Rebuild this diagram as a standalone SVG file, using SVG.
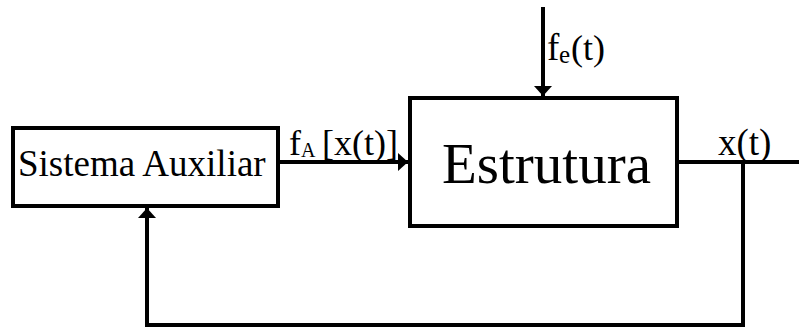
<svg xmlns="http://www.w3.org/2000/svg" width="799" height="328" viewBox="0 0 799 328">
<style>
.box{fill:#fff;stroke:#000;stroke-width:4}
.ln{fill:none;stroke:#000;stroke-width:4}
text{font-family:"Liberation Serif","Times New Roman",serif;fill:#000}
</style>
<defs>
<marker id="ah" markerWidth="10" markerHeight="20" refX="10" refY="10" orient="auto" markerUnits="userSpaceOnUse" viewBox="0 0 10 20">
<path d="M0,1 L10,10 L0,19 Z" fill="#000"/>
</marker>
</defs>
<rect width="799" height="328" fill="#fff"/>
<g id="connectors">
<path class="ln" d="M278,162 H408" marker-end="url(#ah)"/>
<path class="ln" d="M543,7 V96" marker-end="url(#ah)"/>
<path class="ln" d="M677,162 H799"/>
<path class="ln" d="M743,162 V325 H147 V208" marker-end="url(#ah)"/>
</g>
<g id="sistema">
<rect class="box" x="13" y="128" width="265" height="78"/>
<text x="18" y="176" font-size="37">Sistema Auxiliar</text>
</g>
<g id="estrutura">
<rect class="box" x="410" y="98" width="267" height="128"/>
<text x="442" y="183" font-size="57">Estrutura</text>
</g>
<g id="labels">
<text x="289" y="155" font-size="36">f</text>
<text x="301" y="157" font-size="20">A</text>
<text x="322" y="155" font-size="36">[x(t)]</text>
<text x="547" y="60" font-size="37">f</text>
<text x="559" y="63" font-size="25">e</text>
<text x="571" y="60" font-size="36">(t)</text>
<text x="718" y="155" font-size="37">x(t)</text>
</g>
</svg>
